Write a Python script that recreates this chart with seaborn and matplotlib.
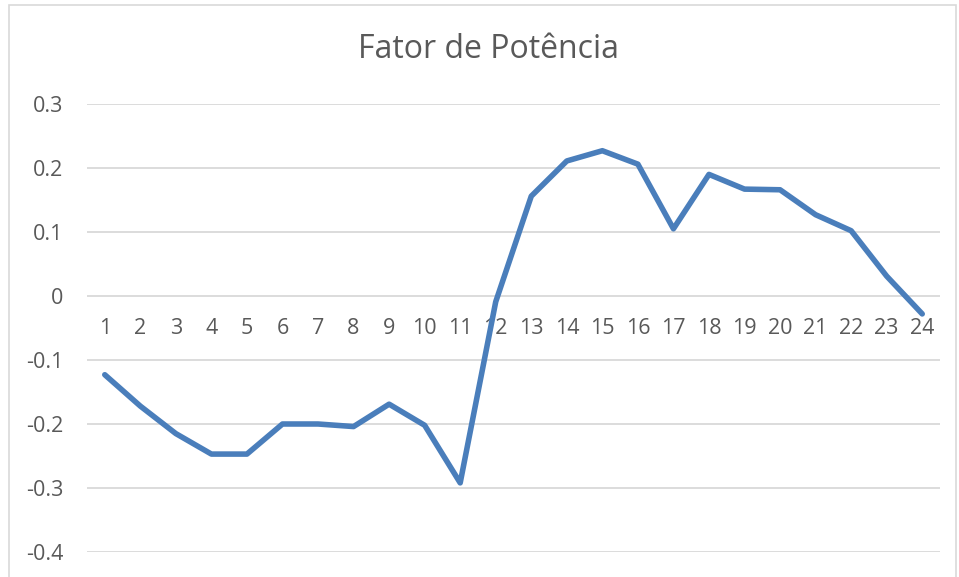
import matplotlib
matplotlib.use("Agg")
import matplotlib.pyplot as plt
import seaborn as sns
import pandas as pd
from matplotlib.patches import Rectangle

hours = list(range(1, 25))
fator_potencia = [-0.123, -0.172, -0.215, -0.247, -0.247, -0.200, -0.200, -0.204,
                  -0.169, -0.202, -0.292, -0.009, 0.156, 0.211, 0.227, 0.206,
                  0.105, 0.190, 0.167, 0.166, 0.127, 0.102, 0.031, -0.028]
y_ticks = [-0.4, -0.3, -0.2, -0.1, 0, 0.1, 0.2, 0.3]
y_labels = ["-0.4", "-0.3", "-0.2", "-0.1", "0", "0.1", "0.2", "0.3"]
title = "Fator de Potência"

sns.set_theme(style="white")
plt.rcParams['font.family'] = ['Open Sans', 'DejaVu Sans']

df = pd.DataFrame({"hora": hours, "fp": fator_potencia})

W, H = 959, 577
fig = plt.figure(figsize=(W / 100, H / 100), dpi=100)
ax = fig.add_axes([87 / W, 1 - 552 / H, (940 - 87) / W, (552 - 104) / H])

sns.lineplot(data=df, x="hora", y="fp", ax=ax, color="#4A7EBB", linewidth=4.0,
             solid_joinstyle="round", solid_capstyle="round")

ax.set_xlim(0.5, 24.5)
ax.set_ylim(-0.4, 0.3)
ax.set_yticks(y_ticks)
ax.set_yticklabels(y_labels)
ax.set_xticks(hours)
ax.set_xticklabels([str(h) for h in hours])
ax.grid(axis="y", color="#D9D9D9", linewidth=1.3)
ax.set_axisbelow(True)
for s in ["top", "right", "left"]:
    ax.spines[s].set_visible(False)
ax.spines["bottom"].set_position(("data", 0))
ax.spines["bottom"].set_visible(False)
ax.tick_params(axis="x", length=0, pad=16, labelsize=15.5, labelcolor="#595959")
ax.tick_params(axis="y", length=0, pad=17, labelsize=15.5, labelcolor="#595959")
ax.set_xlabel("")
ax.set_ylabel("")

fig.text(488 / W, 1 - 49 / H, title, ha="center", va="center",
         fontsize=23, color="#595959")

fig.patches.append(Rectangle((9 / W, -0.1), (956 - 9) / W, 1 - 5 / H + 0.1,
                             transform=fig.transFigure, fill=False,
                             edgecolor="#D9D9D9", linewidth=1.2))

fig.savefig("out.png", dpi=100)
